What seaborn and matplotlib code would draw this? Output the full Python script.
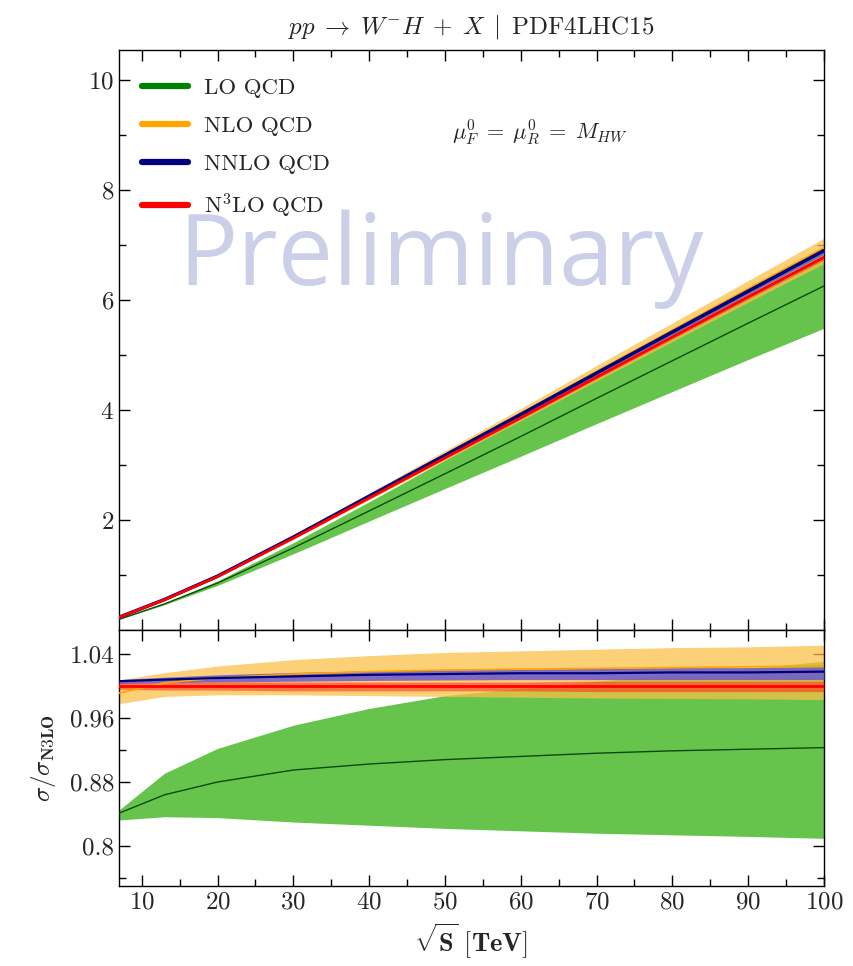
import seaborn as sns
import matplotlib.pyplot as plt
import numpy as np
import pandas as pd
from matplotlib.ticker import MultipleLocator, FixedLocator, FuncFormatter
from matplotlib.lines import Line2D

# collider energies [TeV]
energy = [7, 13, 20, 30, 40, 50, 60, 70, 80, 90, 100]

# N3LO central cross section [pb]
xs_n3lo = [0.23, 0.55, 0.97, 1.67, 2.40, 3.13, 3.86, 4.60, 5.33, 6.06, 6.78]

# ratios to N3LO: central / upper / lower scale variation
lo_c = [0.841, 0.864, 0.880, 0.895, 0.9025, 0.908, 0.912, 0.916, 0.919, 0.921, 0.923]
lo_up = [0.845, 0.891, 0.922, 0.951, 0.972, 0.988, 0.997, 1.006, 1.014, 1.022, 1.031]
lo_dn = [0.8325, 0.8366, 0.8355, 0.830, 0.826, 0.822, 0.819, 0.816, 0.814, 0.812, 0.8096]

nlo_c = [0.991, 1.004, 1.010, 1.015, 1.018, 1.020, 1.021, 1.022, 1.023, 1.024, 1.025]
nlo_up = [1.0075, 1.0167, 1.025, 1.033, 1.038, 1.042, 1.044, 1.046, 1.048, 1.049, 1.051]
nlo_dn = [0.978, 0.987, 0.989, 0.989, 0.988, 0.987, 0.986, 0.985, 0.9845, 0.984, 0.983]

nnlo_c = [1.006, 1.008, 1.010, 1.012, 1.014, 1.015, 1.016, 1.016, 1.017, 1.017, 1.018]
nnlo_up = [1.008, 1.011, 1.014, 1.017, 1.019, 1.020, 1.021, 1.022, 1.023, 1.023, 1.024]
nnlo_dn = [1.003, 1.004, 1.005, 1.006, 1.007, 1.0075, 1.008, 1.008, 1.008, 1.008, 1.008]

n3lo_c = [1.0] * 11
n3lo_up = [1.004, 1.004, 1.005, 1.005, 1.005, 1.005, 1.005, 1.006, 1.006, 1.006, 1.006]
n3lo_dn = [0.996, 0.995, 0.995, 0.994, 0.994, 0.994, 0.994, 0.993, 0.993, 0.993, 0.993]

orders = ['LO QCD', 'NLO QCD', 'NNLO QCD', r'N$^3$LO QCD']
line_cols = ['#008000', '#ffa500', '#000080', '#ff0000']
band_cols = ['#66c44d', '#fac046', '#6a5acd', '#ff2a1a']
band_alpha = [1.0, 0.74, 0.85, 0.55]
central_cols = ['#0b4a0b', '#ffa500', '#000080', '#ff0000']

sns.set_style('ticks')
plt.rcParams['font.family'] = ['cmr10', 'DejaVu Sans']
plt.rcParams['mathtext.fontset'] = 'cm'
plt.rcParams['axes.formatter.use_mathtext'] = True
plt.rcParams['axes.unicode_minus'] = False

x = np.array(energy)
xs = np.array(xs_n3lo)
bands = [(lo_c, lo_up, lo_dn), (nlo_c, nlo_up, nlo_dn),
         (nnlo_c, nnlo_up, nnlo_dn), (n3lo_c, n3lo_up, n3lo_dn)]

# long table for the central lines
rows = []
for name, (c, u, d) in zip(orders, bands):
    for e, r, s in zip(energy, c, xs_n3lo):
        rows.append({'energy': e, 'order': name, 'ratio': r, 'xs': r * s})
df = pd.DataFrame(rows)

fig = plt.figure(figsize=(8.54, 9.66), dpi=100)
ax = fig.add_axes([0.1393, 0.3478, 0.8255, 0.6004])
axr = fig.add_axes([0.1393, 0.0828, 0.8255, 0.2650], sharex=ax)

# watermark
ax.text(0.457, 0.595, 'Preliminary', transform=ax.transAxes, ha='center',
        va='baseline', fontsize=71, color='#cbcfe8', family='Open Sans', zorder=0)

up_lw = [1.0, 1.5, 2.5, 2.0]
lo_lw = [1.0, 1.2, 1.6, 2.0]
for i, (name, (c, u, d)) in enumerate(zip(orders, bands)):
    ax.fill_between(x, np.array(d) * xs, np.array(u) * xs, color=band_cols[i],
                    alpha=band_alpha[i], lw=0, zorder=1 + i)
    axr.fill_between(x, d, u, color=band_cols[i], alpha=band_alpha[i], lw=0, zorder=1 + i)
for i, name in enumerate(orders):
    sub = df[df['order'] == name]
    sns.lineplot(data=sub, x='energy', y='xs', color=central_cols[i], lw=up_lw[i],
                 ax=ax, zorder=10 + i, legend=False)
    sns.lineplot(data=sub, x='energy', y='ratio', color=central_cols[i], lw=lo_lw[i],
                 ax=axr, zorder=10 + i, legend=False)

handles = [Line2D([], [], color=c, lw=4.5) for c in line_cols]
ax.legend(handles, orders, loc='upper left', bbox_to_anchor=(0.02, 0.968),
          frameon=False, fontsize=16.5, handlelength=2.0, handletextpad=0.7,
          labelspacing=0.78, borderaxespad=0)

ax.text(0.597, 0.848, r'$\mu_F^0 \;=\; \mu_R^0 \;=\; M_{HW}$', transform=ax.transAxes,
        ha='center', va='baseline', fontsize=16)
ax.set_title(r'$pp \;\to\; W^{-}H \;+\; X \;\mid\; \mathrm{PDF4LHC15}$',
             fontsize=18, pad=12)

ax.set_xlim(7, 100)
ax.set_ylim(0, 10.55)
ax.yaxis.set_major_locator(FixedLocator([2, 4, 6, 8, 10]))
ax.yaxis.set_minor_locator(FixedLocator([1, 3, 5, 7, 9]))
ax.xaxis.set_major_locator(MultipleLocator(10))
ax.xaxis.set_minor_locator(MultipleLocator(5))
ax.set_xlabel('')
ax.set_ylabel('')
ax.tick_params(labelbottom=False)

axr.set_ylim(0.75, 1.07)
axr.yaxis.set_major_locator(FixedLocator([0.8, 0.88, 0.96, 1.04]))
axr.yaxis.set_minor_locator(FixedLocator([0.76, 0.84, 0.92, 1.0]))
axr.yaxis.set_major_formatter(FuncFormatter(lambda v, p: '%g' % round(v, 2)))
axr.set_xlabel(r'$\sqrt{\mathbf{S}}\ \mathbf{[TeV]}$', fontsize=19, labelpad=6)
axr.set_ylabel(r'$\sigma/\sigma_{\mathbf{N3LO}}$', fontsize=18, labelpad=8)

for a in (ax, axr):
    a.tick_params(which='both', direction='in', top=True, right=True, labelsize=18,
                  color='black', width=1.0)
    a.tick_params(which='major', length=8)
    a.tick_params(which='minor', length=5)
    for s in a.spines.values():
        s.set_color('black')
        s.set_linewidth(1.0)

fig.savefig('out.png', dpi=100)
